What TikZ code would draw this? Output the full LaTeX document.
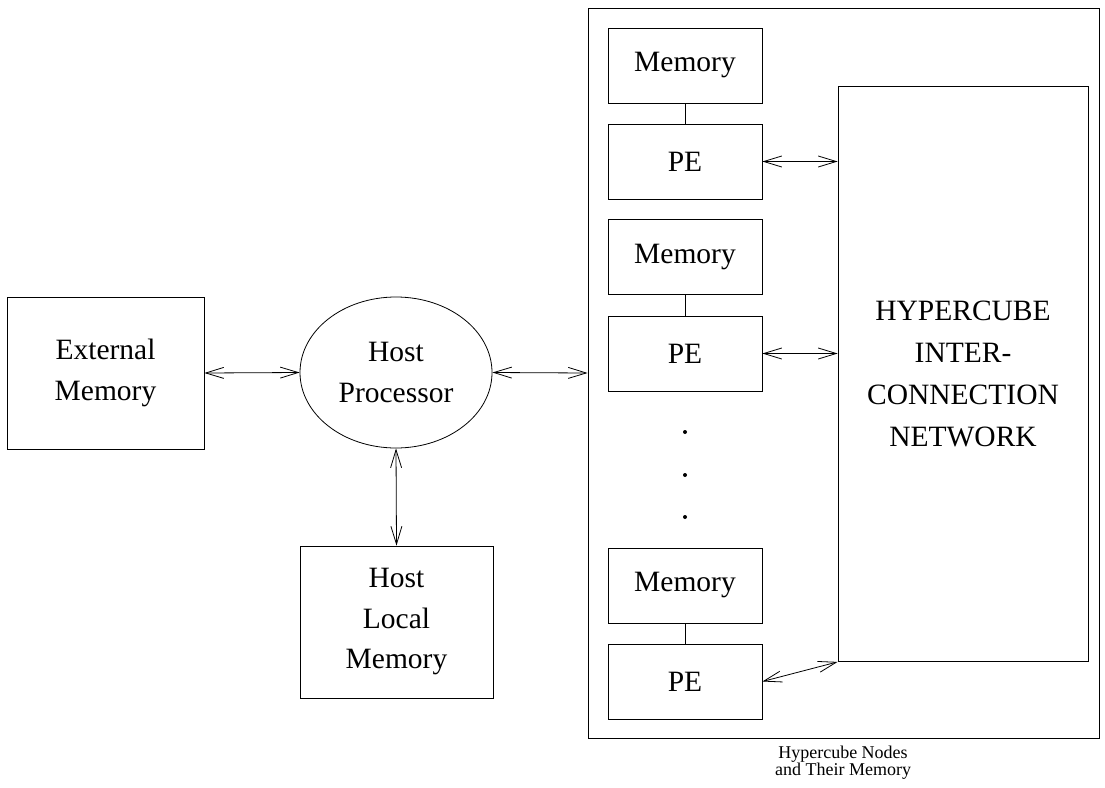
\documentclass[tikz,border=0pt]{standalone}
\usepackage{fontspec}
\setmainfont{Liberation Serif}
\usetikzlibrary{arrows.meta,shapes.geometric}
\tikzset{
  blk/.style={draw, line width=0.8pt, inner sep=0pt, align=center,
    font=\fontsize{29.5}{40.5}\selectfont},
  unit/.style={blk, minimum width=154pt, minimum height=75pt},
  link/.style={line width=0.8pt, {Straight Barb[length=18pt,width=11pt]}-{Straight Barb[length=18pt,width=11pt]}},
  wire/.style={line width=0.8pt},
}
\begin{document}
\begin{tikzpicture}[x=1pt,y=-1pt]
  \useasboundingbox (0,0) rectangle (1105,787);

  % host side
  \node[blk, minimum width=197pt, minimum height=152pt] (ext) at (105.5,373) {External\\Memory};
  \node[blk, ellipse, minimum width=192pt, minimum height=151pt] (host) at (396,372.5) {Host\\Processor};
  \node[blk, minimum width=193pt, minimum height=152pt] (local) at (396.5,622) {Host\\Local\\Memory};

  % hypercube enclosure
  \node[draw, line width=0.8pt, minimum width=511pt, minimum height=730pt, inner sep=0pt] (cube) at (843.5,373) {};
  \node[blk, font=\fontsize{29.5}{42}\selectfont, minimum width=250pt, minimum height=575pt] (net) at (963,374) {HYPERCUBE\\INTER-\\CONNECTION\\NETWORK};

  % node memories and processing elements
  \node[unit] (mem1) at (685,65.5) {Memory};
  \node[unit] (pe1)  at (685,161.5) {PE};
  \node[unit] (mem2) at (685,257) {Memory};
  \node[unit] (pe2)  at (685,353.5) {PE};
  \node[unit] (mem3) at (685,585.5) {Memory};
  \node[unit] (pe3)  at (685,681.5) {PE};

  \fill (685,432) circle (2);
  \fill (685,475) circle (2);
  \fill (685,517) circle (2);

  \node[align=center, font=\fontsize{18}{17}\selectfont] (cap) at (843,763) {Hypercube Nodes\\and Their Memory};

  % connections
  \draw[link] (ext.east) -- (host.west);
  \draw[link] (host.east) -- (cube.west);
  \draw[link] (host.south) -- (local.north);
  \draw[wire] (mem1.south) -- (pe1.north);
  \draw[wire] (mem2.south) -- (pe2.north);
  \draw[wire] (mem3.south) -- (pe3.north);
  \draw[link] (pe1.east) -- (pe1.east -| net.west);
  \draw[link] (pe2.east) -- (pe2.east -| net.west);
  \draw[link] (pe3.east) -- (net.south west);
\end{tikzpicture}
\end{document}
